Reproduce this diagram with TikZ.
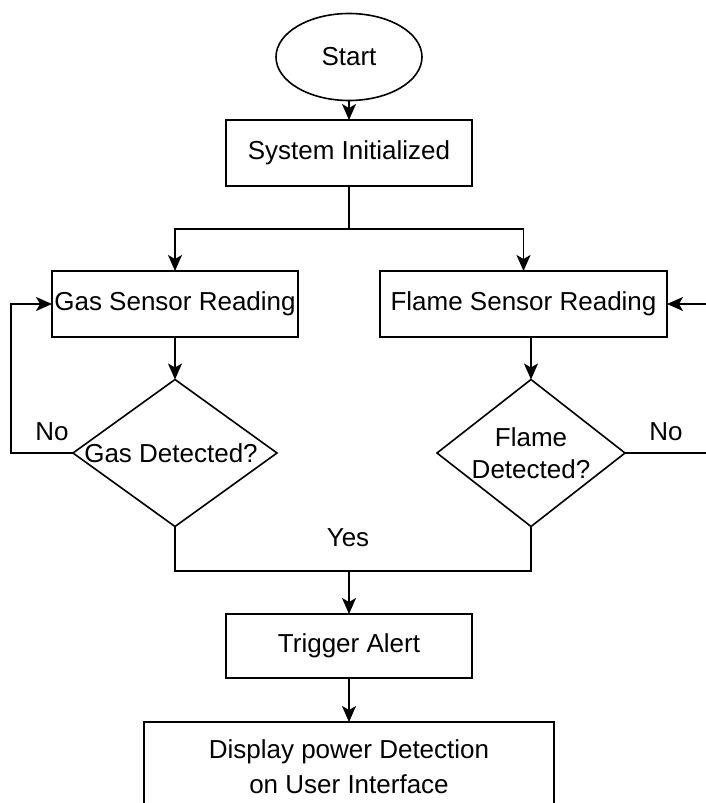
\documentclass[tikz,border=0pt]{standalone}
\usepackage{fontspec}
\setmainfont{Liberation Sans}
\usetikzlibrary{shapes.geometric,arrows.meta}

\begin{document}
\begin{tikzpicture}[
    x=1pt, y=-1pt,
    box/.style={draw, line width=1.6pt, inner sep=1pt, outer sep=0pt, align=center,
                font=\fontsize{26}{35}\selectfont},
    term/.style={draw, ellipse, line width=1.6pt, minimum width=146pt,
                 minimum height=87pt, inner sep=0pt, outer sep=0pt,
                 font=\fontsize{26}{31}\selectfont},
    decision/.style={draw, diamond, line width=1.6pt, inner sep=0pt, outer sep=0pt},
    txt/.style={font=\fontsize{26}{32}\selectfont, align=center, inner sep=0pt},
    flow/.style={-{Stealth[length=16pt,width=14pt,inset=4pt]}, line width=1.6pt},
    link/.style={line width=1.6pt}
]
\clip (0,0) rectangle (706,803);

\node[term] (start) at (349,57) {Start};
\node[box, minimum width=246pt, minimum height=66pt] (init) at (349,153) {System Initialized};
\node[box, minimum width=246pt, minimum height=66pt] (gas) at (175,304) {Gas Sensor Reading};
\node[box, minimum width=287pt, minimum height=66pt] (flame) at (523.5,304) {Flame Sensor Reading};
\node[decision, minimum width=204pt, minimum height=147pt] (gasd) at (175,453) {};
\node[decision, minimum width=188pt, minimum height=147pt] (flamed) at (531,453) {};
\node[txt] (gast) at (171,453) {Gas Detected?};
\node[txt] (flamet) at (531,453) {Flame\\Detected?};
\node[box, minimum width=246pt, minimum height=64pt] (alert) at (349,646) {Trigger Alert};
\node[box, minimum width=410pt, minimum height=90pt] (display) at (349,767)
    {Display power Detection\\on User Interface};

\coordinate (split) at (349,229);
\coordinate (merge) at (349,571);
\coordinate (loopL) at (11,453);
\coordinate (loopR) at (720,453);

\node[txt] (nol) at (52,432) {No};
\node[txt] (nor) at (666,432) {No};
\node[txt] (yes) at (348,538) {Yes};

\draw[flow] (start) -- (init);
\draw[link] (init) -- (split);
\draw[flow] (split) -| (gas);
\draw[flow] (split) -| (flame);
\draw[flow] (gas) -- (gasd);
\draw[flow] (flame.south -| flamed.north) -- (flamed.north);
\draw[flow] (gasd.west) -- (loopL) |- (gas.west);
\draw[flow] (flamed.east) -- (loopR) |- (flame.east);
\draw[link] (gasd.south) |- (merge) -| (flamed.south);
\draw[flow] (merge) -- (alert);
\draw[flow] (alert) -- (display);

\end{tikzpicture}
\end{document}
